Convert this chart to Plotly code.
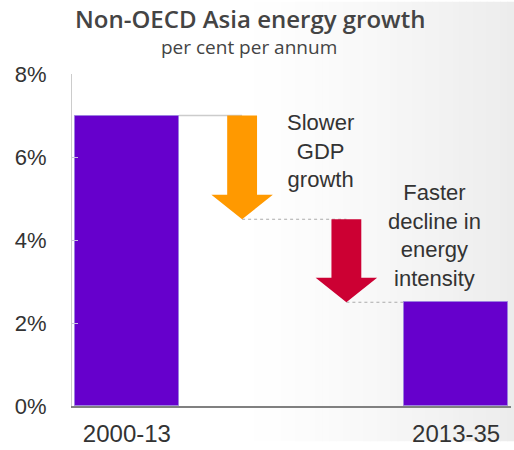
import plotly.graph_objects as go

# ---- data ----
periods = ["2000-13", "2013-35"]
growth = [7.0, 2.5]                # per cent per annum
after_gdp = 4.5                     # level after slower GDP growth
steps_from = [7.0, 4.5]
steps_to = [4.5, 2.5]
step_labels = ["Slower<br>GDP<br>growth", "Faster<br>decline in<br>energy<br>intensity"]
step_colors = ["#ff9900", "#cc0033"]
bar_pos = [0, 3]
step_pos = [1.05, 2.0]
y_ticks = [0, 2, 4, 6, 8]

PURPLE = "#6600cc"
TXT = "#333333"

fig = go.Figure()

fig.add_trace(go.Bar(
    x=bar_pos, y=growth, width=0.95,
    marker=dict(color=PURPLE, line=dict(color="#9d80e0", width=1)),
    hoverinfo="skip", showlegend=False,
))

shapes = []
W, H = 514, 450
l, r, t, b = 72, 3, 74, 36
pw, ph = W - l - r, H - t - b
def px_to_paper_x(px):
    return (px - l) / pw
def px_to_paper_y(py):
    return (H - b - py) / ph
# soft background gradient
n = 40
x0px = 240
for i in range(n):
    a = x0px + (W - x0px) * i / n
    c = x0px + (W - x0px) * (i + 1) / n
    f = (i + 0.5) / n
    v = int(round(255 - 19 * f ** 1.3))
    shapes.append(dict(type="rect", xref="paper", yref="paper",
                       x0=px_to_paper_x(a), x1=px_to_paper_x(c) + 0.002,
                       y0=px_to_paper_y(H), y1=px_to_paper_y(0),
                       fillcolor=f"rgb({v},{v},{v})", line=dict(width=0), layer="below"))

# connector lines
half_bar = 0.475
shaft_hw, head_hw, head_len = 0.136, 0.28, 0.59
shapes.append(dict(type="line", x0=bar_pos[0] + half_bar, x1=step_pos[0], y0=growth[0], y1=growth[0],
                   line=dict(color="#cccccc", width=1.5), layer="below"))
shapes.append(dict(type="line", x0=step_pos[0], x1=step_pos[1], y0=after_gdp, y1=after_gdp,
                   line=dict(color="#aaaaaa", width=1.2, dash="dot"), layer="below"))
shapes.append(dict(type="line", x0=step_pos[1], x1=bar_pos[1] - half_bar, y0=growth[1], y1=growth[1],
                   line=dict(color="#aaaaaa", width=1.2, dash="dot"), layer="below"))

# arrows
for xc, y0, y1, col in zip(step_pos, steps_from, steps_to, step_colors):
    yb = y1 + head_len
    path = (f"M {xc-shaft_hw},{y0} L {xc+shaft_hw},{y0} L {xc+shaft_hw},{yb} "
            f"L {xc+head_hw},{yb} L {xc},{y1} L {xc-head_hw},{yb} "
            f"L {xc-shaft_hw},{yb} Z")
    shapes.append(dict(type="path", path=path, fillcolor=col, line=dict(width=0), layer="above"))

annotations = []
label_specs = [(1.76, 6.14), (2.80, 4.10)]
for (xc, yc), txt in zip(label_specs, step_labels):
    annotations.append(dict(x=xc, y=yc, text=txt, showarrow=False,
                            font=dict(family="Liberation Sans, Arial", size=22, color=TXT),
                            xanchor="center", yanchor="middle", align="center"))

# title & subtitle
annotations.append(dict(xref="paper", yref="paper", x=px_to_paper_x(250), y=px_to_paper_y(17),
                        text="Non-OECD Asia energy growth", showarrow=False,
                        font=dict(family="Open Sans", size=24, color="#444444", weight=600),
                        xanchor="center", yanchor="middle"))
annotations.append(dict(xref="paper", yref="paper", x=px_to_paper_x(249), y=px_to_paper_y(46),
                        text="per cent per annum", showarrow=False,
                        font=dict(family="Open Sans", size=19, color="#444444"),
                        xanchor="center", yanchor="middle"))

fig.update_layout(
    width=W, height=H,
    margin=dict(l=l, r=r, t=t, b=b, pad=0),
    paper_bgcolor="white", plot_bgcolor="rgba(0,0,0,0)",
    shapes=shapes, annotations=annotations,
    showlegend=False, bargap=0,
    xaxis=dict(range=[-0.5, 3.5], tickvals=bar_pos, ticktext=periods,
               showgrid=False, zeroline=False, showline=True, linecolor="#808080", linewidth=1.5,
               ticks="", ticklabelstandoff=5,
               tickfont=dict(family="Liberation Sans, Arial", size=24, color=TXT), fixedrange=True),
    yaxis=dict(range=[0, 8], tickvals=y_ticks, ticktext=[f"{v}%" for v in y_ticks],
               showgrid=False, zeroline=False, showline=True, linecolor="#cccccc", linewidth=1.2,
               ticks="inside", ticklen=6, tickcolor="#c8bfe0", ticklabelstandoff=20,
               tickfont=dict(family="Liberation Sans, Arial", size=22, color=TXT), fixedrange=True),
)

fig.write_html("out.html")
